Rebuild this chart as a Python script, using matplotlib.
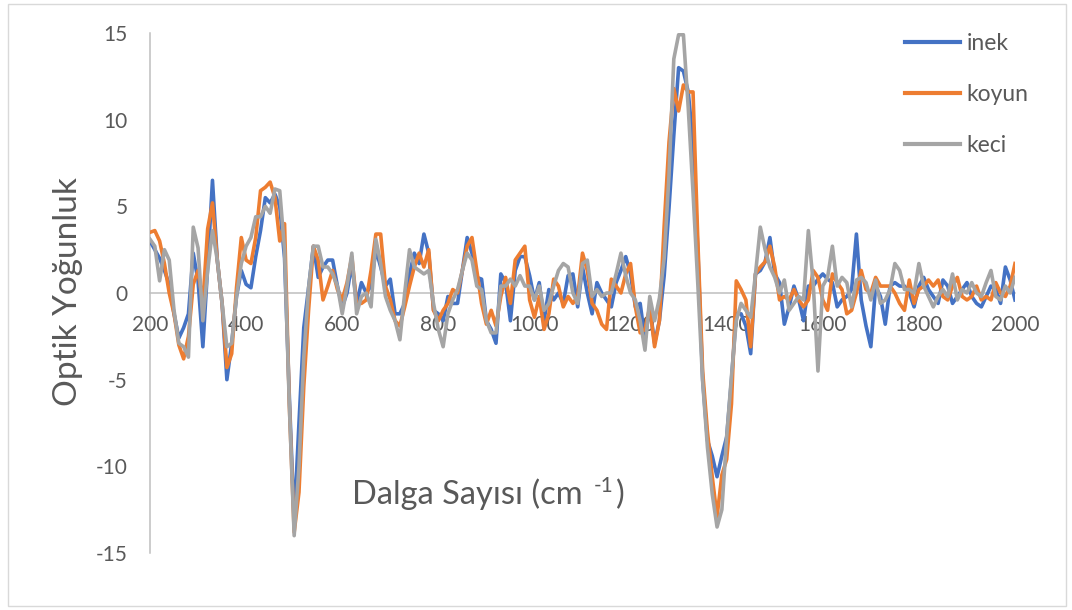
import numpy as np
import matplotlib
matplotlib.use("Agg")
import matplotlib.pyplot as plt
from matplotlib.patches import Rectangle

plt.rcParams['font.family'] = ['Lato', 'DejaVu Sans']
plt.rcParams['axes.unicode_minus'] = False

# wavenumber grid (cm-1)
dalga = list(range(200, 2001, 10))

inek = [3.0, 2.5, 2.0, 1.3, 0.5, -1.2, -2.6, -2.0, -1.2, 2.3,
        0.7, -3.1, 1.5, 6.5, 1.9, -0.6, -5.0, -2.9, -0.2, 1.3,
        0.5, 0.3, 2.1, 3.6, 5.5, 5.2, 5.7, 5.0, 2.0, -6.0,
        -13.2, -7.5, -2.0, 0.3, 2.7, 0.9, 1.5, 1.9, 1.9, 0.4,
        -0.8, 0.0, 1.7, -0.6, 0.6, 0.0, 0.4, 2.5, 1.5, 0.4,
        0.8, -1.2, -1.2, -0.6, 1.1, 2.3, 1.7, 3.4, 2.3, -1.0,
        -1.2, -1.6, -0.2, -0.6, -0.6, 1.3, 3.2, 2.3, 0.9, 0.8,
        -1.6, -2.1, -2.9, 1.1, 0.6, -1.6, 1.3, 2.1, 2.1, 1.0,
        -0.4, 0.6, -1.6, 0.2, -0.4, 0.0, -0.6, 1.0, 1.1, -0.8,
        1.5, 0.0, -1.2, 0.6, 0.0, -0.4, -0.8, 0.6, 1.3, 2.1,
        1.1, -0.8, -0.6, -2.7, -0.8, -2.9, -1.6, 1.0, 4.9, 9.1,
        13.0, 12.8, 11.6, 8.7, 2.5, -5.0, -8.5, -9.4, -10.6, -9.4,
        -8.3, -5.0, -1.2, -1.2, -1.9, -3.5, 1.1, 1.3, 1.8, 3.2,
        1.1, 0.6, -1.8, -0.8, 0.4, -0.4, -1.6, 0.4, 0.4, 0.8,
        1.1, 0.8, 0.6, -0.8, -0.4, -0.2, 0.2, 3.4, -0.4, -1.9,
        -3.1, 0.4, -0.2, -1.8, 0.4, 0.6, 0.4, 0.4, 0.0, -0.8,
        0.4, 0.9, 0.2, -0.2, -0.6, 0.75, 0.4, -0.6, -0.2, 0.2,
        0.6, -0.2, -0.6, -0.8, -0.2, 0.4, 0.2, -0.6, 1.5, 0.75, -0.4]

koyun = [3.5, 3.6, 3.0, 1.7, 0.0, -1.2, -3.0, -3.8, -2.5, 0.5,
         1.3, -0.6, 3.7, 5.2, 1.9, -0.6, -4.3, -3.5, 0.3, 3.2,
         1.9, 1.7, 3.2, 5.9, 6.1, 6.4, 5.5, 3.0, 4.0, -6.5,
         -13.8, -11.5, -5.4, -1.0, 2.7, 1.9, -0.4, 0.4, 1.3, 0.2,
         -0.4, 0.6, 2.1, -0.6, -0.6, -0.4, 1.3, 3.4, 3.4, 0.4,
         -0.4, -1.6, -1.9, -0.8, 0.4, 1.5, 2.3, 1.5, 2.5, -1.0,
         -1.6, -1.0, -0.6, 0.2, 0.0, 1.3, 2.7, 3.2, 1.3, -0.6,
         -1.8, -1.0, -1.9, -0.2, 0.9, -0.6, 1.9, 2.3, 2.7, -0.4,
         -1.4, -0.2, -2.1, -1.2, 0.8, 0.4, -0.8, -0.2, -0.6, -0.2,
         2.3, 1.3, -0.6, -1.0, -1.8, -2.1, 0.8, 0.4, 0.0, 1.1,
         1.7, -0.8, -2.3, -2.1, -0.8, -3.1, -1.6, 3.9, 8.7, 11.8,
         10.5, 12.0, 11.6, 11.6, 3.0, -4.5, -8.0, -10.6, -12.9, -10.5,
         -9.6, -6.4, 0.7, 0.2, -0.4, -3.1, 1.1, 1.5, 1.8, 2.7,
         1.5, -0.4, -0.2, -0.4, 0.2, -0.4, -0.8, -0.4, 1.3, 0.9,
         -0.4, -1.0, 1.1, 0.6, 0.2, -1.2, -1.0, 0.0, 1.3, 0.2,
         0.0, 0.9, 0.4, 0.4, 0.4, 0.0, -0.6, -1.0, 0.75, -0.6,
         0.2, 0.4, 0.75, 0.4, 0.75, -0.2, -0.4, 0.4, 0.9, -0.2,
         -0.4, -0.2, 0.4, -0.4, -0.2, -0.4, 0.6, 0.0, -0.2, 0.4, 1.7]

keci = [3.1, 2.7, 0.7, 2.5, 1.9, -1.0, -2.9, -3.1, -3.7, 3.8,
        2.6, -1.6, 1.3, 3.6, 1.9, -0.6, -3.1, -2.9, -0.2, 1.7,
        2.7, 3.2, 4.4, 4.4, 5.0, 4.6, 6.0, 5.9, 2.5, -6.5,
        -14.0, -10.0, -3.7, 0.3, 2.7, 2.7, 1.5, 1.5, 1.1, 0.4,
        -1.2, 0.4, 2.3, -1.2, -0.2, 0.0, -0.8, 3.1, 1.7, -0.2,
        -1.0, -1.6, -2.7, 0.0, 2.5, 1.5, 1.3, 1.1, 1.3, -0.6,
        -2.1, -3.1, -1.2, -0.4, 0.2, 1.3, 2.3, 1.9, 0.4, 0.2,
        -1.6, -2.3, -2.3, 0.4, 0.4, 0.8, 0.4, 1.0, 0.4, 0.4,
        -0.4, 0.4, -1.0, -0.6, 0.4, 1.3, 1.7, 1.5, 0.0, -0.6,
        1.7, 1.9, -0.2, 0.2, -0.2, 0.0, 0.0, 1.1, 2.3, 1.0,
        0.0, -0.4, -1.6, -3.3, -0.2, -1.6, -0.3, 2.0, 6.8, 13.5,
        14.9, 14.9, 10.7, 5.8, 0.5, -5.1, -8.9, -11.6, -13.5, -12.5,
        -8.3, -4.8, -1.6, -0.6, -1.0, -1.4, 1.1, 3.8, 2.5, 1.5,
        0.9, 0.0, 0.75, -1.0, -0.6, -0.2, -0.4, 3.6, 0.6, -4.5,
        0.4, 0.9, 2.7, 0.4, 0.9, 0.6, -0.8, 0.75, 0.9, 0.6,
        -0.4, 0.75, -0.6, -0.4, 0.2, 1.7, 1.3, 0.2, 0.2, 0.0,
        1.7, 0.4, -0.2, -0.8, -0.2, 0.2, -0.2, 1.1, -0.4, 0.2,
        0.0, 0.6, 0.0, -0.2, 0.6, 1.3, -0.2, -0.4, 0.4, 0.0, 0.9]

W, H = 1072, 610
fig = plt.figure(figsize=(W / 100, H / 100), dpi=100)
ax = fig.add_axes([150 / W, 57 / H, 865 / W, 520 / H])

ax.plot(dalga, inek, color='#4472C4', lw=2.6, label='inek', solid_joinstyle='round')
ax.plot(dalga, koyun, color='#ED7D31', lw=2.6, label='koyun', solid_joinstyle='round')
ax.plot(dalga, keci, color='#A5A5A5', lw=2.6, label='keci', solid_joinstyle='round')

ax.set_xlim(200, 2000)
ax.set_ylim(-15, 15)
ax.set_xticks(range(200, 2001, 200))
ax.set_yticks(range(-15, 16, 5))

for s in ['top', 'right']:
    ax.spines[s].set_visible(False)
ax.spines['bottom'].set_position(('data', 0))
for s in ['left', 'bottom']:
    ax.spines[s].set_color('#BFBFBF')
    ax.spines[s].set_linewidth(1.1)
    ax.spines[s].set_zorder(0)

ax.tick_params(axis='x', length=0, pad=16, labelsize=15, labelcolor='#595959')
ax.tick_params(axis='y', length=0, pad=16, labelsize=15, labelcolor='#595959')

fig.text(68 / W, 1 - 292 / H, 'Optik Yoğunluk', rotation=90, ha='center',
         va='center', fontsize=24, color='#595959')

# x axis title with a small raised "-1"
ybase = 1 - 504 / H
t1 = fig.text(352 / W, ybase, 'Dalga Sayısı (cm ', ha='left', va='baseline',
              fontsize=23.5, color='#595959')
fig.canvas.draw()
r = fig.canvas.get_renderer()
b1 = t1.get_window_extent(r)
t2 = fig.text(b1.x1 / W + 3 / W, ybase + 12 / H, '-1', ha='left', va='baseline',
              fontsize=15, color='#595959')
b2 = t2.get_window_extent(r)
fig.text(b2.x1 / W + 2 / W, ybase, ')', ha='left', va='baseline',
         fontsize=23.5, color='#595959')

leg = fig.legend(loc='upper left', bbox_to_anchor=(905 / W, 1 - 33 / H),
                 frameon=False, fontsize=16.5, handlelength=2.4,
                 handletextpad=0.3, labelspacing=1.3, borderpad=0,
                 borderaxespad=0)
for t in leg.get_texts():
    t.set_color('#595959')
for l in leg.get_lines():
    l.set_linewidth(3)

fig.patches.append(Rectangle((8 / W, 4 / H), 1058 / W, 602 / H,
                             transform=fig.transFigure, fill=False,
                             edgecolor='#D9D9D9', lw=1))

fig.savefig('out.png', dpi=100)
